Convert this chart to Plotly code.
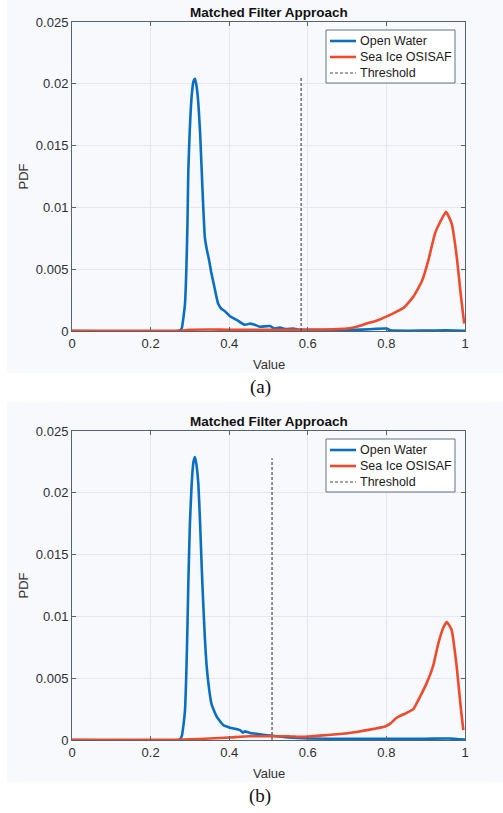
import plotly.graph_objects as go

# ---------------- data ----------------
# Panel (a)
a_water_x = [0.0, 0.27, 0.277, 0.280, 0.284, 0.2875, 0.291, 0.294, 0.296, 0.300, 0.3045, 0.309, 0.313,
             0.317, 0.3215, 0.326, 0.330, 0.334, 0.338, 0.343, 0.349, 0.354, 0.360, 0.366,
             0.372, 0.380, 0.389, 0.402, 0.419, 0.440, 0.453, 0.465, 0.478, 0.504, 0.515, 0.529, 0.545,
             0.563, 0.580, 0.620, 0.700, 0.800, 0.810, 0.900, 0.950, 1.0]
a_water_y = [0.0, 0.0, 0.0001, 0.0003, 0.0012, 0.0022, 0.0050, 0.0090, 0.0130, 0.0165, 0.0190, 0.0202, 0.0204,
             0.0198, 0.0184, 0.0160, 0.0130, 0.0100, 0.0076, 0.0066, 0.0057, 0.0048, 0.0039, 0.0030,
             0.0022, 0.0018, 0.0016, 0.0012, 0.0009, 0.0005, 0.0006, 0.0005, 0.00035, 0.0004, 0.0002, 0.00027, 0.00015,
             0.0002, 0.0001, 0.0001, 0.00005, 0.0002, 0.00005, 0.00003, 0.00005, 0.00002]
a_ice_x = [0.0, 0.27, 0.30, 0.35, 0.40, 0.50, 0.60, 0.70, 0.7244, 0.75, 0.775, 0.80, 0.826, 0.847,
           0.8685, 0.89, 0.9066, 0.9237, 0.9364, 0.9517, 0.966, 0.979, 0.989, 0.998]
a_ice_y = [0.00002, 0.00002, 0.0001, 0.00012, 0.0001, 0.0001, 0.0001, 0.0002, 0.00035, 0.0006, 0.00083,
           0.00116, 0.00156, 0.00197, 0.00278, 0.0040, 0.0057, 0.0079, 0.0088, 0.00965, 0.0087, 0.0060,
           0.0030, 0.0006]
a_threshold = 0.583
a_threshold_top = 0.0205

# Panel (b)
b_water_x = [0.0, 0.27, 0.276, 0.280, 0.284, 0.2875, 0.291, 0.294, 0.296, 0.300, 0.3045, 0.309, 0.313,
             0.317, 0.3215, 0.326, 0.330, 0.334, 0.338, 0.342, 0.347, 0.355,
             0.368, 0.385, 0.402, 0.4275, 0.435, 0.440, 0.453, 0.478, 0.504, 0.550, 0.600, 0.700,
             0.800, 0.900, 0.960, 1.0]
b_water_y = [0.0, 0.0, 0.0001, 0.0004, 0.0013, 0.0024, 0.0055, 0.0095, 0.0127, 0.0175, 0.0207, 0.0225, 0.0229,
             0.0222, 0.0207, 0.0175, 0.0140, 0.0110, 0.0083, 0.0062, 0.0046, 0.0029,
             0.0019, 0.0012, 0.0010, 0.0008, 0.0006, 0.0007, 0.00057, 0.00046, 0.00036, 0.0002, 0.00012,
             0.0001, 0.0001, 0.0001, 0.00012, 0.00003]
b_ice_x = [0.0, 0.27, 0.30, 0.35, 0.40, 0.45, 0.50, 0.55, 0.5886, 0.63, 0.6735, 0.7244, 0.758, 0.7964,
           0.809, 0.826, 0.8517, 0.8685, 0.8855, 0.9025, 0.919, 0.932, 0.945, 0.9537, 0.966, 0.979,
           0.989, 0.9957]
b_ice_y = [0.00002, 0.00002, 0.00005, 0.00012, 0.0002, 0.0003, 0.0003, 0.0003, 0.00025, 0.00035, 0.00046,
           0.00065, 0.00084, 0.0011, 0.0013, 0.0018, 0.0022, 0.0025, 0.0035, 0.0046, 0.0060, 0.0078,
           0.0091, 0.00955, 0.0089, 0.0059, 0.0027, 0.0008]
b_threshold = 0.509
b_threshold_top = 0.0228

x_ticks = [0, 0.2, 0.4, 0.6, 0.8, 1.0]
x_tick_labels = ["0", "0.2", "0.4", "0.6", "0.8", "1"]
y_ticks = [0, 0.005, 0.01, 0.015, 0.02, 0.025]
y_tick_labels = ["0", "0.005", "0.01", "0.015", "0.02", "0.025"]

series_names = ["Open Water", "Sea Ice OSISAF", "Threshold"]
titles = ["Matched Filter Approach", "Matched Filter Approach"]
captions = ["(a)", "(b)"]

# ---------------- figure ----------------
W, H = 503, 813
BLUE = "#0A6FC0"
RED = "#EE4A2C"
DASHC = "#4a4a4a"
FONT = "Liberation Sans"

def py(v):  # pixel row -> paper y
    return (H - v) / H

def px(v):
    return v / W

fig = go.Figure()

panels = [
    dict(wx=a_water_x, wy=a_water_y, ix=a_ice_x, iy=a_ice_y, t=a_threshold, th=a_threshold_top,
         xa="x", ya="y"),
    dict(wx=b_water_x, wy=b_water_y, ix=b_ice_x, iy=b_ice_y, t=b_threshold, th=b_threshold_top,
         xa="x2", ya="y2"),
]
for p in panels:
    fig.add_trace(go.Scatter(x=p["wx"], y=p["wy"], mode="lines", name=series_names[0], showlegend=False,
                             line=dict(color=BLUE, width=2.6, shape="spline", smoothing=0.4),
                             xaxis=p["xa"], yaxis=p["ya"]))
    fig.add_trace(go.Scatter(x=p["ix"], y=p["iy"], mode="lines", name=series_names[1], showlegend=False,
                             line=dict(color=RED, width=2.6, shape="spline", smoothing=0.4),
                             xaxis=p["xa"], yaxis=p["ya"]))
    fig.add_trace(go.Scatter(x=[p["t"], p["t"]], y=[0, p["th"]], mode="lines", name=series_names[2],
                             showlegend=False,
                             line=dict(color=DASHC, width=1.2, dash="3px,2px"),
                             xaxis=p["xa"], yaxis=p["ya"]))

# plot area pixel boxes
x0p, x1p = 72, 465
boxes = [(22, 331), (431, 740)]

axis_common = dict(showline=True, linecolor="#56636e", linewidth=1, mirror="ticks",
                   ticks="inside", ticklen=4, tickcolor="#56636e", showgrid=True,
                   gridcolor="#e4e8ee", gridwidth=1, zeroline=False, automargin=False,
                   tickfont=dict(family=FONT, size=13, color="#2b2f33"))

layout = dict(
    width=W, height=H, autosize=False,
    margin=dict(l=0, r=0, t=0, b=0),
    paper_bgcolor="white", plot_bgcolor="#fdfdfe",
    font=dict(family=FONT, color="#222"),
    showlegend=False,
)
for i, (top, bot) in enumerate(boxes):
    sfx = "" if i == 0 else str(i + 1)
    layout["xaxis" + sfx] = dict(axis_common, domain=[px(x0p), px(x1p)], range=[0, 1],
                                 tickvals=x_ticks, ticktext=x_tick_labels,
                                 anchor="y" + sfx)
    layout["yaxis" + sfx] = dict(axis_common, domain=[py(bot), py(top)], range=[0, 0.025],
                                 tickvals=y_ticks, ticktext=y_tick_labels,
                                 anchor="x" + sfx)
fig.update_layout(**layout)

# background panels, legends (box + samples + labels) and texts
annotations = []
shapes = []
legend_styles = [dict(color=BLUE, width=2.6, dash="solid"),
                 dict(color=RED, width=2.6, dash="solid"),
                 dict(color=DASHC, width=1.2, dash="3px,2px")]
for i, (top, bot) in enumerate(boxes):
    shapes.append(dict(type="rect", xref="paper", yref="paper", x0=px(7), x1=1.0,
                       y0=py(bot + 42), y1=py(top - 22 if i == 0 else top - 29),
                       fillcolor="#f8f9fc", line=dict(width=0), layer="below"))
    # legend
    lt = top + 8
    shapes.append(dict(type="rect", xref="paper", yref="paper", x0=px(326), x1=px(455),
                       y0=py(lt + 53), y1=py(lt), fillcolor="white",
                       line=dict(color="#5f7484", width=1), layer="above"))
    for k, name in enumerate(series_names):
        yy = lt + 11 + 16 * k
        shapes.append(dict(type="line", xref="paper", yref="paper", x0=px(330), x1=px(356),
                           y0=py(yy), y1=py(yy), line=legend_styles[k], layer="above"))
        annotations.append(dict(text=name, x=px(358), y=py(yy), xref="paper", yref="paper",
                                showarrow=False, xanchor="left", yanchor="middle",
                                font=dict(family=FONT, size=12.5, color="#1a1a1a")))
    annotations.append(dict(text="<b>" + titles[i] + "</b>", x=px((x0p + x1p) / 2), y=py(top - 10),
                            xref="paper", yref="paper", showarrow=False, xanchor="center", yanchor="middle",
                            font=dict(family=FONT, size=13.5, color="#111")))
    annotations.append(dict(text="Value", x=px((x0p + x1p) / 2), y=py(bot + 33),
                            xref="paper", yref="paper", showarrow=False, xanchor="center", yanchor="middle",
                            font=dict(family=FONT, size=13, color="#333")))
    annotations.append(dict(text="PDF", x=px(23), y=py((top + bot) / 2), textangle=-90,
                            xref="paper", yref="paper", showarrow=False, xanchor="center", yanchor="middle",
                            font=dict(family=FONT, size=13, color="#333")))
    annotations.append(dict(text=captions[i], x=px(260), y=py(bot + 56),
                            xref="paper", yref="paper", showarrow=False, xanchor="center", yanchor="middle",
                            font=dict(family="Liberation Serif", size=19, color="#111")))
fig.update_layout(annotations=annotations, shapes=shapes)

fig.write_html("out.html", config={"displayModeBar": False},
               post_script="document.body.style.margin='0';document.body.style.overflow='hidden';")
